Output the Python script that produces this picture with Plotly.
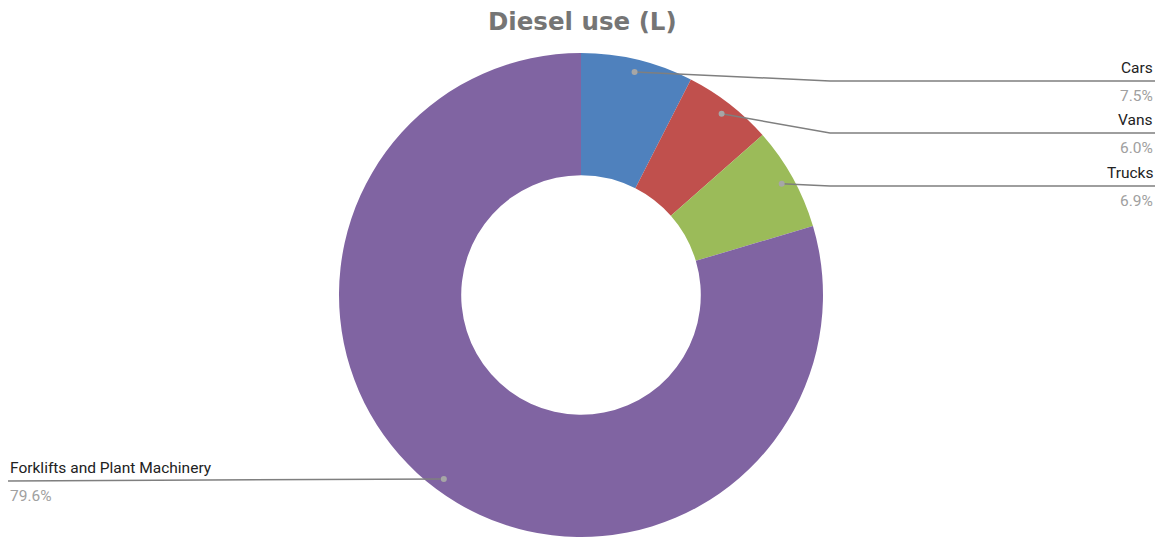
import math
import plotly.graph_objects as go

# Diesel use split by vehicle group (share of litres, %)
categories = ["Cars", "Vans", "Trucks", "Forklifts and Plant Machinery"]
shares = [7.5, 6.0, 6.9, 79.6]
share_labels = ["7.5%", "6.0%", "6.9%", "79.6%"]
colors = ["#4F81BD", "#C0504D", "#9BBB59", "#8064A2"]

W, H = 1161, 537
cx, cy, R = 581, 295, 242          # donut centre and outer radius, px
hole = 0.495

# label slots: side and y (px) of the underline for each category
label_side = ["right", "right", "right", "left"]
label_line_y = [81, 133, 186, 481]
right_elbow_x, right_end_x = 830, 1155
left_end_x = 8

label_font = "Roboto, sans-serif"


def px(x):
    return x / W


def py(y):
    return 1 - y / H


fig = go.Figure(
    go.Pie(
        labels=categories,
        values=shares,
        hole=hole,
        sort=False,
        direction="clockwise",
        rotation=0,
        marker=dict(colors=colors, line=dict(width=0)),
        textinfo="none",
        hoverinfo="label+percent",
        showlegend=False,
        domain=dict(x=[px(cx - R), px(cx + R)], y=[py(cy + R), py(cy - R)]),
    )
)

shapes = []
annotations = []
total = sum(shares)
cum = 0.0
dot_r = 0.948 * R
for name, val, pct, side, ly in zip(categories, shares, share_labels, label_side, label_line_y):
    ang = 2 * math.pi * (cum + val / 2) / total
    cum += val
    dx = cx + dot_r * math.sin(ang)
    dy = cy - dot_r * math.cos(ang)
    if side == "right":
        path = f"M {px(dx)},{py(dy)} L {px(right_elbow_x)},{py(ly)} L {px(right_end_x)},{py(ly)}"
        tx, anchor = right_end_x, "right"
    else:
        path = f"M {px(dx)},{py(dy)} L {px(left_end_x)},{py(ly)}"
        tx, anchor = left_end_x, "left"
    shapes.append(dict(type="path", path=path, xref="paper", yref="paper",
                       line=dict(color="#7f7f7f", width=1.5)))
    shapes.append(dict(type="circle", xref="paper", yref="paper",
                       x0=px(dx - 3), x1=px(dx + 3), y0=py(dy + 3), y1=py(dy - 3),
                       fillcolor="#a6a6a6", line=dict(width=0)))
    annotations.append(dict(text=name, x=px(tx), y=py(ly - 13), xref="paper", yref="paper",
                            xanchor=anchor, yanchor="middle", showarrow=False,
                            font=dict(family=label_font, size=15.5, color="#222222")))
    annotations.append(dict(text=pct, x=px(tx), y=py(ly + 15), xref="paper", yref="paper",
                            xanchor=anchor, yanchor="middle", showarrow=False,
                            font=dict(family=label_font, size=15.5, color="#a0a0a0")))

annotations.append(dict(text="<b>Diesel use (L)</b>", x=px(582), y=py(21), xref="paper", yref="paper",
                        xanchor="center", yanchor="middle", showarrow=False,
                        font=dict(family="DejaVu Sans", size=24.5, color="#757575")))

fig.update_layout(
    width=W,
    height=H,
    margin=dict(l=0, r=0, t=0, b=0),
    paper_bgcolor="white",
    plot_bgcolor="white",
    shapes=shapes,
    annotations=annotations,
)

fig.write_html("out.html")
